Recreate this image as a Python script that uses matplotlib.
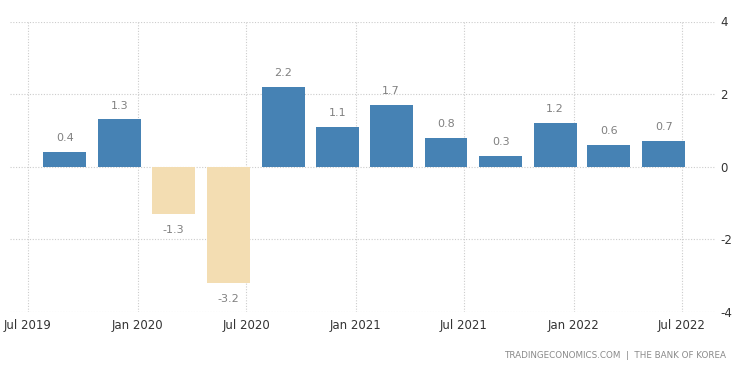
import matplotlib
matplotlib.use("Agg")
import matplotlib.pyplot as plt
import matplotlib.dates as mdates
import numpy as np
import pandas as pd

# Data
quarters = ["2019-09-01", "2019-12-01", "2020-03-01", "2020-06-01",
            "2020-09-01", "2020-12-01", "2021-03-01", "2021-06-01",
            "2021-09-01", "2021-12-01", "2022-03-01", "2022-06-01"]
values = [0.4, 1.3, -1.3, -3.2, 2.2, 1.1, 1.7, 0.8, 0.3, 1.2, 0.6, 0.7]
x_ticks = ["2019-07-01", "2020-01-01", "2020-07-01", "2021-01-01",
           "2021-07-01", "2022-01-01", "2022-07-01"]
x_tick_labels = ["Jul 2019", "Jan 2020", "Jul 2020", "Jan 2021",
                 "Jul 2021", "Jan 2022", "Jul 2022"]
y_ticks = [-4, -2, 0, 2, 4]
source_text = "TRADINGECONOMICS.COM  |  THE BANK OF KOREA"

dates = pd.to_datetime(quarters)
pos_color = "#4682B4"
neg_color = "#F3DDB2"

fig = plt.figure(figsize=(7.5, 3.73), dpi=100)
ax = fig.add_axes([10 / 750, 1 - 311.7 / 373, 705 / 750, (311.7 - 21.5) / 373])

colors = [pos_color if v >= 0 else neg_color for v in values]
ax.bar(dates, values, width=72, color=colors, align="center", zorder=3)

for d, v in zip(dates, values):
    if v >= 0:
        ax.annotate(f"{v:.1f}", xy=(d, v), xytext=(0, 10), textcoords="offset points",
                    ha="center", va="center", fontsize=8, color="#808080")
    else:
        ax.annotate(f"{v:.1f}", xy=(d, v), xytext=(0, -11.5), textcoords="offset points",
                    ha="center", va="center", fontsize=8, color="#808080")

ax.set_xlim(pd.Timestamp("2019-06-01"), pd.Timestamp("2022-08-26"))
ax.set_ylim(-4, 4)
ax.set_yticks(y_ticks)
ax.set_yticklabels([str(t) for t in y_ticks])
ax.set_xticks(pd.to_datetime(x_ticks))
ax.set_xticklabels(x_tick_labels)

ax.yaxis.tick_right()
for s in ax.spines.values():
    s.set_visible(False)
ax.tick_params(axis="both", length=0, labelsize=8.5, colors="#333333")
ax.tick_params(axis="y", pad=4)
ax.tick_params(axis="x", pad=5)
ax.grid(True, which="major", axis="both", linestyle=(0, (1, 1.5)), color="#cccccc",
        linewidth=0.8, zorder=0)
ax.set_axisbelow(True)

fig.text(726 / 750, 1 - 356 / 373, source_text, ha="right", va="center",
         fontsize=6.3, color="#8a8a8a")

fig.savefig("out.png", dpi=100)
